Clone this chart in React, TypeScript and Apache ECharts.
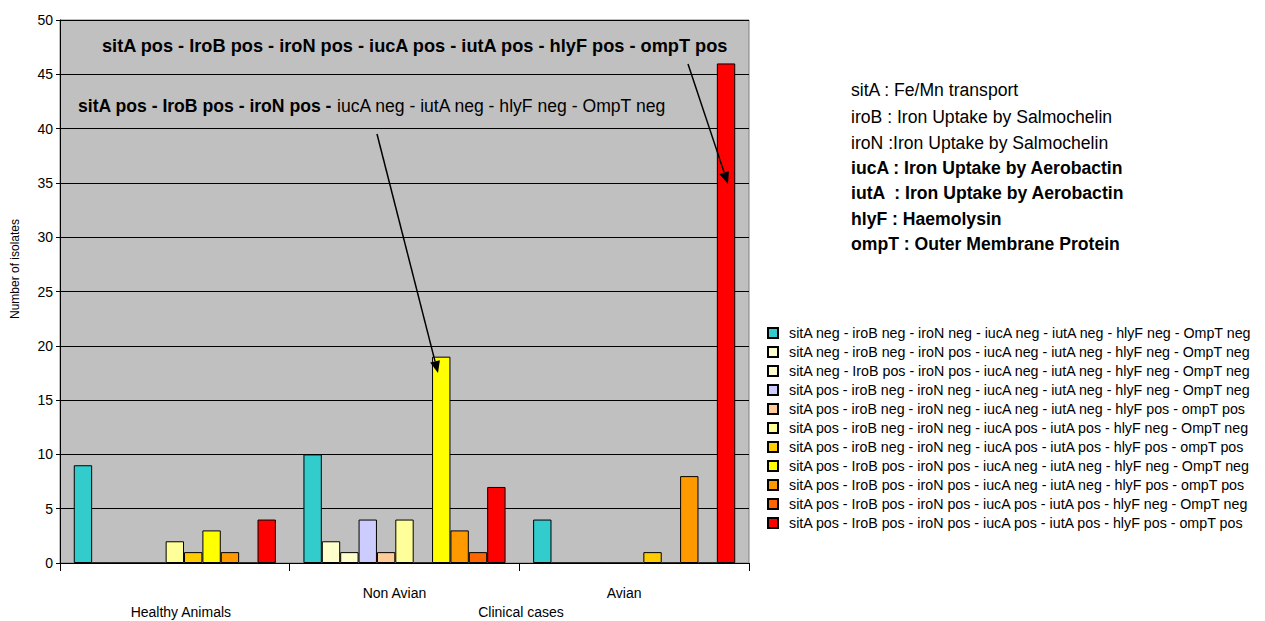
import React, { useEffect, useRef } from "react";
import * as echarts from "echarts";

const categories = ["Healthy Animals", "Non Avian", "Avian"];
const groupLabel = "Clinical cases";

const seriesNames = [
  "sitA neg - iroB neg - iroN neg - iucA neg - iutA neg - hlyF neg - OmpT neg",
  "sitA neg - iroB neg - iroN pos - iucA neg - iutA neg - hlyF neg - OmpT neg",
  "sitA neg - IroB pos - iroN pos - iucA neg - iutA neg - hlyF neg - OmpT neg",
  "sitA pos - iroB neg - iroN neg - iucA neg - iutA neg - hlyF neg - OmpT neg",
  "sitA pos - iroB neg - iroN neg - iucA neg - iutA neg - hlyF pos - ompT pos",
  "sitA pos - iroB neg - iroN neg - iucA pos - iutA pos - hlyF neg - OmpT neg",
  "sitA pos - iroB neg - iroN neg - iucA pos - iutA pos - hlyF pos - ompT pos",
  "sitA pos - IroB pos - iroN pos - iucA neg - iutA neg - hlyF neg - OmpT neg",
  "sitA pos - IroB pos - iroN pos - iucA neg - iutA neg - hlyF pos - ompT pos",
  "sitA pos - IroB pos - iroN pos - iucA pos - iutA pos - hlyF neg - OmpT neg",
  "sitA pos - IroB pos - iroN pos - iucA pos - iutA pos - hlyF pos - ompT pos",
];

const seriesColors = [
  "#33CCCC", "#FFFFCC", "#FFFFCC", "#CCCCFF", "#FFCC99", "#FFFF99",
  "#FFCC00", "#FFFF00", "#FF9900", "#FF6600", "#FF0000",
];

// values per series: [Healthy Animals, Non Avian, Avian]
const s1 = [9, 10, 4];
const s2 = [0, 2, 0];
const s3 = [0, 1, 0];
const s4 = [0, 4, 0];
const s5 = [0, 1, 0];
const s6 = [2, 4, 0];
const s7 = [1, 0, 1];
const s8 = [3, 19, 0];
const s9 = [1, 3, 8];
const s10 = [0, 1, 0];
const s11 = [4, 7, 46];
const seriesValues = [s1, s2, s3, s4, s5, s6, s7, s8, s9, s10, s11];

const geneNotes = [
  { text: "sitA : Fe/Mn transport", bold: false },
  { text: "iroB : Iron Uptake by Salmochelin", bold: false },
  { text: "iroN :Iron Uptake by Salmochelin", bold: false },
  { text: "iucA : Iron Uptake by Aerobactin", bold: true },
  { text: "iutA  : Iron Uptake by Aerobactin", bold: true },
  { text: "hlyF : Haemolysin", bold: true },
  { text: "ompT : Outer Membrane Protein", bold: true },
];

const FONT = "'Liberation Sans', Arial, sans-serif";

function arrow(x1: number, y1: number, x2: number, y2: number) {
  const dx = x2 - x1;
  const dy = y2 - y1;
  const len = Math.sqrt(dx * dx + dy * dy);
  const ux = dx / len;
  const uy = dy / len;
  const hl = 12;
  const hw = 5;
  const bx = x2 - ux * hl;
  const by = y2 - uy * hl;
  return [
    {
      type: "line",
      shape: { x1, y1, x2: bx, y2: by },
      style: { stroke: "#000", lineWidth: 1.5 },
      z: 100,
    },
    {
      type: "polygon",
      shape: {
        points: [
          [x2, y2],
          [bx - uy * hw, by + ux * hw],
          [bx + uy * hw, by - ux * hw],
        ],
      },
      style: { fill: "#000" },
      z: 100,
    },
  ];
}

export default function App() {
  const ref = useRef<HTMLDivElement>(null);

  useEffect(() => {
    if (!ref.current) return;
    const chart = echarts.init(ref.current, null, { renderer: "svg" });

    const graphics: any[] = [
      {
        type: "text",
        x: 102,
        y: 46,
        style: {
          text: "sitA pos - IroB pos - iroN pos - iucA pos - iutA pos - hlyF pos - ompT pos",
          font: `bold 18.2px ${FONT}`,
          fill: "#000",
          verticalAlign: "middle",
        },
        z: 100,
      },
      {
        type: "text",
        x: 78,
        y: 106,
        style: {
          text: "{b|sitA pos - IroB pos - iroN pos - }{n|iucA neg - iutA neg - hlyF neg - OmpT neg}",
          verticalAlign: "middle",
          rich: {
            b: { font: `bold 17.6px ${FONT}`, fill: "#000" },
            n: { font: `17.6px ${FONT}`, fill: "#000" },
          },
        },
        z: 100,
      },
      ...arrow(688, 64, 728, 184),
      ...arrow(377, 134, 438, 373),
      {
        type: "text",
        x: 521,
        y: 612,
        style: {
          text: groupLabel,
          font: `14px ${FONT}`,
          fill: "#000",
          align: "center",
          verticalAlign: "middle",
        },
      },
      {
        type: "text",
        x: 15,
        y: 269,
        rotation: Math.PI / 2,
        style: {
          text: "Number of isolates",
          font: `12px ${FONT}`,
          fill: "#000",
          align: "center",
          verticalAlign: "middle",
        },
      },
      ...geneNotes.map((g, i) => ({
        type: "text",
        x: 851,
        y: [90, 117, 143, 168, 193, 219, 244][i],
        style: {
          text: g.text,
          font: `${g.bold ? "bold " : ""}17.6px ${FONT}`,
          fill: "#000",
          verticalAlign: "middle",
        },
      })),
    ];

    chart.setOption({
      animation: false,
      textStyle: { fontFamily: FONT },
      grid: {
        left: 60,
        top: 20,
        right: 516,
        bottom: 55,
        show: true,
        backgroundColor: "#C0C0C0",
        borderColor: "#808080",
        borderWidth: 1,
      },
      legend: {
        orient: "vertical",
        left: 762,
        top: 321,
        itemWidth: 10,
        itemHeight: 10,
        itemGap: 5,
        icon: "rect",
        textStyle: { fontSize: 14.25, color: "#000", fontFamily: FONT, padding: [0, 0, 0, 6] },
        data: seriesNames,
      },
      xAxis: {
        type: "category",
        data: categories,
        axisLine: { lineStyle: { color: "#000", width: 1 } },
        axisTick: { show: true, length: 8, lineStyle: { color: "#000" } },
        axisLabel: {
          color: "#000",
          fontSize: 14,
          margin: 20,
          lineHeight: 19,
          formatter: (v: string, i: number) =>
            i === 0 ? "\n{h|" + v + "}" : "{a|" + v + "}",
          rich: {
            h: { fontSize: 14, lineHeight: 19, padding: [0, 0, 0, 12] },
            a: { fontSize: 14, lineHeight: 19, padding: [0, 20, 0, 0] },
          },
        },
      },
      yAxis: {
        type: "value",
        min: 0,
        max: 50,
        interval: 5,
        axisLine: { show: true, lineStyle: { color: "#000" } },
        axisTick: { show: true, length: 4, lineStyle: { color: "#000" } },
        axisLabel: { color: "#000", fontSize: 14, margin: 7 },
        splitLine: { show: true, lineStyle: { color: "#000", width: 1 } },
      },
      series: seriesNames.map((name, i) => ({
        name,
        type: "bar",
        data: seriesValues[i],
        barGap: "0%",
        barCategoryGap: "12%",
        itemStyle: { color: seriesColors[i], borderColor: "#000", borderWidth: 1 },
      })),
      graphic: graphics,
    });

    return () => chart.dispose();
  }, []);

  return (
    <div
      ref={ref}
      style={{ position: "absolute", left: 0, top: 0, width: 1265, height: 621 }}
    />
  );
}
